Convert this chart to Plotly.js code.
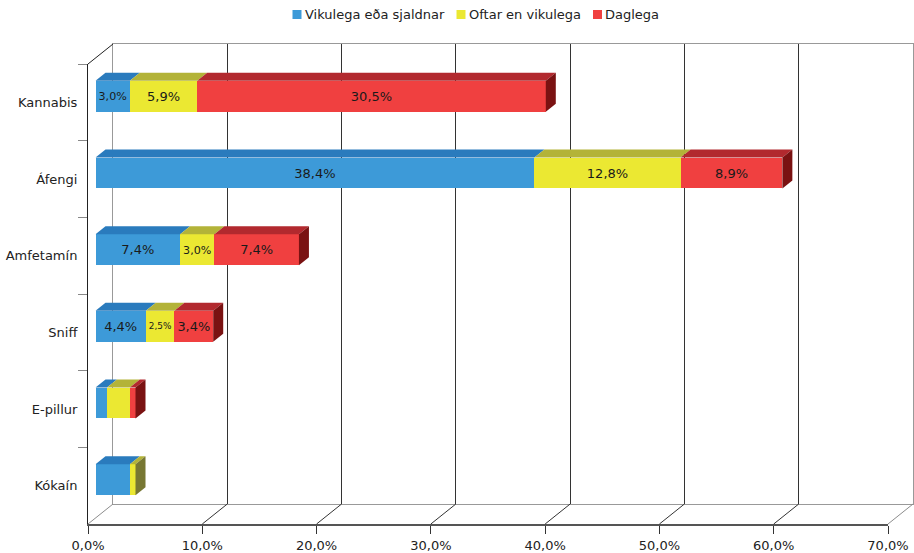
<!DOCTYPE html>
<html><head><meta charset="utf-8">
<script src="https://cdn.plot.ly/plotly-3.0.1.min.js"></script>
<style>html,body{margin:0;padding:0;background:#fff}#chart{width:914px;height:553px}</style>
</head><body><div id="chart"></div>
<script>
// ---- data ----
const categories = ['Kannabis', 'Áfengi', 'Amfetamín', 'Sniff', 'E-pillur', 'Kókaín'];
const seriesNames = ['Vikulega eða sjaldnar', 'Oftar en vikulega', 'Daglega'];
const weekly = [3.0, 38.4, 7.4, 4.4, 1.0, 3.0];
const moreThanWeekly = [5.9, 12.8, 3.0, 2.5, 2.0, 0.5];
const daily = [30.5, 8.9, 7.4, 3.4, 0.5, 0.0];
const xTickValues = [0, 10, 20, 30, 40, 50, 60, 70];
const xTickLabels = ['0,0%', '10,0%', '20,0%', '30,0%', '40,0%', '50,0%', '60,0%', '70,0%'];

// ---- styles ----
const FONT = 'DejaVu Sans, Verdana, sans-serif';
const frontColors = ['#3d9ad8', '#ebe832', '#f04040'];
const topColors = ['#2a7bbd', '#b3b338', '#b2292e'];
const sideColors = ['#1f5f94', '#777733', '#7a1212'];

// ---- layout geometry (pixels) ----
const W = 914, H = 553;
const FX0 = 88, FX1 = 888, FYT = 64, FYB = 524;   // front plane
const WDX = 25, WDY = 20;                          // wall depth
const BDX = 7.5, BDY = 6;                          // bar front offset
const DDX = 10, DDY = 8;                           // bar depth
const XMAX = xTickValues[xTickValues.length - 1];
const BARW = 0.404;
const n = categories.length;
const PXU = (FX1 - FX0) / XMAX;
const PYC = (FYB - FYT) / n;
const px = v => v / W;
const py = v => 1 - v / H;

const seriesValues = [weekly, moreThanWeekly, daily];
const rowTotals = categories.map((c, i) => seriesValues.reduce((s, arr) => s + arr[i], 0));
const fmt = v => v.toFixed(1).replace('.', ',') + '%';

const traces = [];
// back wall subplot helper
traces.push({type: 'scatter', x: [], y: [], xaxis: 'x', yaxis: 'y', hoverinfo: 'skip', showlegend: false});
// bars
seriesValues.forEach((vals, j) => {
  traces.push({
    type: 'bar', orientation: 'h', name: seriesNames[j],
    x: vals, y: categories, xaxis: 'x2', yaxis: 'y2',
    width: BARW,
    marker: {color: frontColors[j], line: {width: 0}},
    text: vals.map((v, i) => (rowTotals[i] >= 5 && v > 0) ? fmt(v) : ''),
    textposition: 'inside', insidetextanchor: 'middle', textangle: 0,
    textfont: {family: FONT, size: 13, color: '#1a1a1a'},
    hoverinfo: 'skip', showlegend: false
  });
});
// front axes helper (for category ticks)
traces.push({type: 'scatter', mode: 'markers', x: categories.map(() => 0), y: categories,
  xaxis: 'x3', yaxis: 'y3', marker: {opacity: 0}, hoverinfo: 'skip', showlegend: false});

// ---- 3D faces of bars ----
const shapes = [];
const ddx = DDX / PXU, ddy = DDY / PYC;
categories.forEach((c, i) => {
  let s = 0, last = -1;
  const yT = i - BARW / 2, yB = i + BARW / 2;
  seriesValues.forEach((vals, j) => {
    const v = vals[i];
    if (v <= 0) return;
    const x0 = s, x1 = s + v;
    shapes.push({type: 'path', xref: 'x2', yref: 'y2', layer: 'above',
      path: `M${x0},${yT} L${x1},${yT} L${x1 + ddx},${yT - ddy} L${x0 + ddx},${yT - ddy} Z`,
      fillcolor: topColors[j], line: {width: 0}});
    s = x1; last = j;
  });
  if (last >= 0) {
    shapes.push({type: 'path', xref: 'x2', yref: 'y2', layer: 'above',
      path: `M${s},${yT} L${s + ddx},${yT - ddy} L${s + ddx},${yB - ddy} L${s},${yB} Z`,
      fillcolor: sideColors[last], line: {width: 0}});
  }
});

// ---- floor / wall diagonals ----
function line(x0, y0, x1, y1, color) {
  shapes.push({type: 'line', xref: 'paper', yref: 'paper', layer: 'above',
    x0: px(x0), y0: py(y0), x1: px(x1), y1: py(y1), line: {color: color, width: 1}});
}
line(FX0, FYT, FX0 + WDX, FYT - WDY, '#222');
xTickValues.forEach((t, k) => {
  const fx = FX0 + t * PXU;
  const c = (k === 0 || k === xTickValues.length - 1) ? '#8c8c8c' : '#333';
  line(fx, FYB, fx + WDX, FYB - WDY, c);
});

// ---- custom legend ----
const legendSquares = [292.5, 456.5, 593];
const legendTextX = [303, 467, 603];
const annotations = [];
seriesNames.forEach((nm, j) => {
  shapes.push({type: 'rect', xref: 'paper', yref: 'paper', layer: 'above',
    x0: px(legendSquares[j]), x1: px(legendSquares[j] + 9), y0: py(19), y1: py(10),
    fillcolor: frontColors[j], line: {width: 0}});
  annotations.push({xref: 'paper', yref: 'paper', x: px(legendTextX[j]), y: py(14.5),
    xanchor: 'left', yanchor: 'middle', showarrow: false, text: nm,
    font: {family: FONT, size: 13, color: '#222'}});
});

const layout = {
  width: W, height: H,
  margin: {l: 0, r: 0, t: 0, b: 0, pad: 0},
  paper_bgcolor: '#ffffff', plot_bgcolor: 'rgba(0,0,0,0)',
  font: {family: FONT, size: 13, color: '#222'},
  separators: ',.',
  showlegend: false,
  barmode: 'stack',
  // back wall
  xaxis: {domain: [px(FX0 + WDX), px(FX1 + WDX)], anchor: 'y', range: [0, XMAX],
    tickvals: xTickValues, showgrid: true, gridcolor: '#333', gridwidth: 1,
    showticklabels: false, ticks: '', showline: true, mirror: true, linecolor: '#999',
    linewidth: 1, zeroline: false, fixedrange: true, automargin: false},
  yaxis: {domain: [py(FYB - WDY), py(FYT - WDY)], anchor: 'x', range: [0, 1],
    showgrid: false, showticklabels: false, ticks: '', showline: true, mirror: true,
    linecolor: '#999', linewidth: 1, zeroline: false, fixedrange: true, automargin: false},
  // bars
  xaxis2: {domain: [px(FX0 + BDX), px(FX1 + BDX)], anchor: 'y2', range: [0, XMAX],
    visible: false, fixedrange: true},
  yaxis2: {domain: [py(FYB - BDY), py(FYT - BDY)], anchor: 'x2', type: 'category',
    categoryorder: 'array', categoryarray: categories, range: [n - 0.5, -0.5],
    visible: false, fixedrange: true},
  // front axes
  xaxis3: {domain: [px(FX0), px(FX1)], anchor: 'y3', range: [0, XMAX],
    tickmode: 'array', tickvals: xTickValues, ticktext: xTickLabels,
    ticks: 'outside', ticklen: 8, tickwidth: 1, tickcolor: '#333',
    showline: true, linecolor: '#555', linewidth: 2, showgrid: false, zeroline: false,
    tickfont: {family: FONT, size: 13, color: '#222'}, fixedrange: true, automargin: false},
  yaxis3: {domain: [py(FYB), py(FYT)], anchor: 'x3', type: 'category',
    categoryorder: 'array', categoryarray: categories, range: [n - 0.5, -0.5],
    tickson: 'boundaries', ticks: 'outside', ticklen: 9, tickwidth: 1, tickcolor: '#888',
    ticklabelstandoff: 7,
    showline: true, linecolor: '#222', linewidth: 1, showgrid: false, zeroline: false,
    tickfont: {family: FONT, size: 13, color: '#222'}, fixedrange: true, automargin: false},
  shapes: shapes,
  annotations: annotations
};

Plotly.newPlot('chart', traces, layout, {staticPlot: true, displayModeBar: false});
</script>
</body></html>
